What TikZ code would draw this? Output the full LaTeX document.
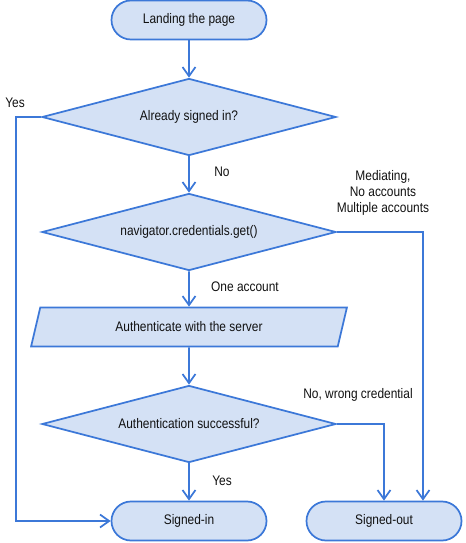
\documentclass[tikz,border=0pt]{standalone}
\usepackage{fontspec}
\setmainfont[FakeStretch=0.86]{Liberation Sans}
\usepackage{xcolor}
\usepackage{tikz}
\usetikzlibrary{arrows.meta,calc,positioning,shapes.geometric}
\definecolor{FlowBlue}{HTML}{3C78D8}
\definecolor{FlowFill}{HTML}{D4E1F5}
\definecolor{Ink}{HTML}{111111}
\newcommand{\flowfont}{\fontsize{10.4pt}{12pt}\selectfont}

\begin{document}
\begin{tikzpicture}[x=0.75pt,y=-0.75pt,
  pill/.style={draw=FlowBlue,line width=1.3pt,fill=FlowFill,rounded corners=14.6pt,minimum width=116.25pt,minimum height=29.25pt,inner sep=0pt,align=center,font=\flowfont,text=Ink},
  ask/.style={draw=FlowBlue,line width=1.3pt,fill=FlowFill,diamond,aspect=3.8,minimum width=220.5pt,minimum height=57.75pt,inner sep=0pt,align=center,font=\flowfont,text=Ink},
  io/.style={draw=FlowBlue,line width=1.3pt,fill=FlowFill,trapezium,trapezium left angle=66,trapezium right angle=114,trapezium stretches=true,minimum width=237pt,minimum height=29.25pt,inner sep=0pt,align=center,font=\flowfont,text=Ink},
  lbl/.style={font=\flowfont,text=Ink,align=center,inner sep=0pt},
  arr/.style={-{Straight Barb[length=2.4mm,width=3.4mm]},line width=1.3pt,draw=FlowBlue}
]
\useasboundingbox (0,0) rectangle (465,543);

\node[pill] (landing) at (189,20) {Landing the page};
\node[ask] (signedq) at (189,117) {Already signed in?};
\node[ask] (credget) at (189,232) {navigator.credentials.get()};
\node[io] (auth) at (189,327) {Authenticate with the server};
\node[ask] (authok) at (189,424) {Authentication successful?};
\node[pill] (signedin) at (189,521) {Signed-in};
\node[pill] (signedout) at (384,521) {Signed-out};

% branch labels
\node[lbl] (yesa) at (15,103) {Yes};
\node[lbl] (noa) at (222,172) {No};
\node[lbl] (mediating) at (383,193) {Mediating,\\No accounts\\Multiple accounts};
\node[lbl] (oneacc) at (245,287) {One account};
\node[lbl] (wrongcred) at (358,395) {No, wrong credential};
\node[lbl] (yesb) at (222,481) {Yes};

\coordinate (leftrail) at (16,117);
\coordinate (rightrail) at (423,232);

\draw[arr] (landing) -- (signedq);
\draw[arr] (signedq) -- (credget);
\draw[arr] (credget) -- (auth);
\draw[arr] (auth) -- (authok);
\draw[arr] (authok) -- (signedin);
\draw[arr] (signedq.west) -- (leftrail) |- (signedin.west);
\draw[arr] (credget.east) -- (rightrail) -- (rightrail |- signedout.north);
\draw[arr] (authok.east) -| (signedout.north);
\end{tikzpicture}
\end{document}
